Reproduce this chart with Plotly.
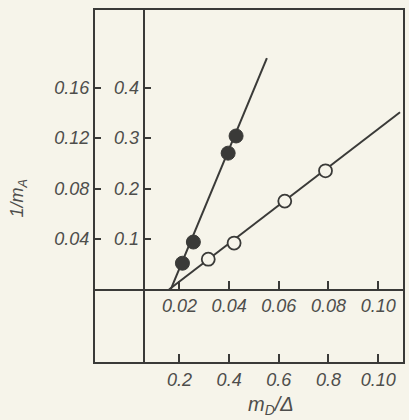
import plotly.graph_objects as go

# ---- data (lower x scale m_D/Δ, inner y scale) ----
filled_x = [0.212, 0.256, 0.396, 0.428]
filled_y = [0.052, 0.094, 0.270, 0.304]
filled_line_x = [0.165, 0.552]
filled_line_y = [0.0, 0.458]

open_x = [0.316, 0.420, 0.624, 0.788]
open_y = [0.060, 0.092, 0.175, 0.235]
open_line_x = [0.158, 1.088]
open_line_y = [0.0, 0.351]

x_tickvals = [0.2, 0.4, 0.6, 0.8, 1.0]
x_ticktext_lower = ["0.2", "0.4", "0.6", "0.8", "0.10"]
x_ticktext_upper = ["0.02", "0.04", "0.06", "0.08", "0.10"]
y_tickvals = [0.1, 0.2, 0.3, 0.4]
y_ticktext_outer = ["0.04", "0.08", "0.12", "0.16"]
y_ticktext_inner = ["0.1", "0.2", "0.3", "0.4"]

W, H = 409, 420
left, right, top, bottom = 95, 405, 10, 362
x_range = [-0.14, 1.10]
y_range = [-0.1436, 0.5535]

ink = "#3a3a38"
txt = "#4e4e4c"
paper = "#f6f4ea"
fnt = dict(family="Liberation Sans", size=18, color=txt, style="italic")

fig = go.Figure()
fig.add_trace(go.Scatter(x=filled_line_x, y=filled_line_y, mode="lines",
                         line=dict(color=ink, width=2), showlegend=False))
fig.add_trace(go.Scatter(x=open_line_x, y=open_line_y, mode="lines",
                         line=dict(color=ink, width=2), showlegend=False))
fig.add_trace(go.Scatter(x=filled_x, y=filled_y, mode="markers",
                         marker=dict(size=14, color=ink, line=dict(color=ink, width=1)),
                         showlegend=False))
fig.add_trace(go.Scatter(x=open_x, y=open_y, mode="markers",
                         marker=dict(size=13, color=paper, line=dict(color=ink, width=1.8)),
                         showlegend=False))
# invisible trace to anchor the secondary axes
fig.add_trace(go.Scatter(x=[0.5], y=[0.2], xaxis="x2", yaxis="y2", mode="markers",
                         marker=dict(opacity=0), showlegend=False, hoverinfo="skip"))

ypos = (bottom - 289.5) / (bottom - top)
xpos = (144 - left) / (right - left)

fig.update_layout(
    width=W, height=H,
    margin=dict(l=left, r=W - right, t=top, b=H - bottom),
    paper_bgcolor=paper, plot_bgcolor=paper,
    font=fnt,
    xaxis=dict(range=x_range, showgrid=False, zeroline=False, showline=True,
               linecolor=ink, linewidth=2, mirror=True, ticks="inside", ticklen=8,
               tickwidth=1.5, tickcolor=ink, tickvals=x_tickvals, ticktext=x_ticktext_lower,
               tickfont=fnt, fixedrange=True),
    yaxis=dict(range=y_range, showgrid=False, zeroline=False, showline=True,
               linecolor=ink, linewidth=2, mirror=True, ticks="inside", ticklen=6,
               tickwidth=1.5, tickcolor=ink, tickvals=y_tickvals, ticktext=y_ticktext_outer,
               tickfont=fnt, fixedrange=True),
    xaxis2=dict(range=x_range, overlaying="x", anchor="free", position=ypos, side="bottom",
                showgrid=False, zeroline=False, showline=True, linecolor=ink, linewidth=2,
                ticks="inside", ticklen=8, tickwidth=1.5, tickcolor=ink,
                tickvals=x_tickvals, ticktext=x_ticktext_upper, tickfont=fnt, fixedrange=True),
    yaxis2=dict(range=y_range, overlaying="y", anchor="free", position=xpos, side="left",
                showgrid=False, zeroline=False, showline=True, linecolor=ink, linewidth=2,
                ticks="inside", ticklen=6, tickwidth=1.5, tickcolor=ink,
                tickvals=y_tickvals, ticktext=y_ticktext_inner, tickfont=fnt, fixedrange=True),
)

fig.add_annotation(text="m<sub>D</sub>/Δ", xref="paper", yref="paper",
                   x=(272 - left) / (right - left), y=-(405 - bottom) / (bottom - top),
                   xanchor="center", yanchor="middle",
                   showarrow=False, font=dict(family="Liberation Sans", size=20, color=txt, style="italic"))
fig.add_annotation(text="1/m<sub>A</sub>", xref="paper", yref="paper",
                   x=-(left - 18) / (right - left), y=(bottom - 198) / (bottom - top),
                   xanchor="center", yanchor="middle",
                   textangle=-90, showarrow=False,
                   font=dict(family="Liberation Sans", size=18, color=txt, style="italic"))

fig.write_html("out.html")
